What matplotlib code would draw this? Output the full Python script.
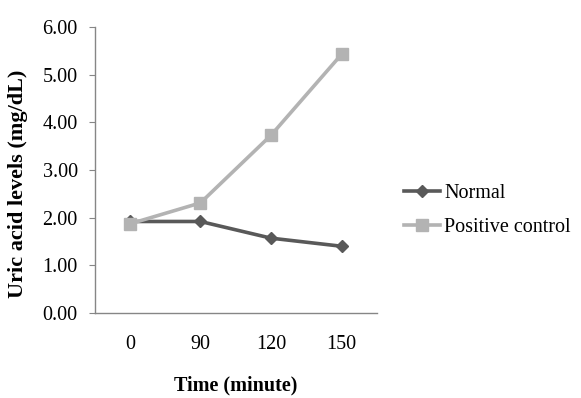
import matplotlib.pyplot as plt

times = ["0", "90", "120", "150"]
normal = [1.92, 1.92, 1.57, 1.40]
positive = [1.87, 2.31, 3.73, 5.43]
yticks = [0, 1, 2, 3, 4, 5, 6]

plt.rcParams['font.family'] = ['Liberation Serif', 'DejaVu Serif']

fig = plt.figure(figsize=(5.81, 3.98), dpi=100)
ax = fig.add_axes([94.5 / 581, 1 - 313 / 398, (377 - 94.5) / 581, (313 - 27) / 398])

x = range(len(times))
ax.plot(x, normal, color='#595959', lw=2.6, marker='D', ms=6.5, label='Normal', zorder=3)
ax.plot(x, positive, color='#b3b3b3', lw=2.6, marker='s', ms=9, label='Positive control', zorder=4)

ax.set_xlim(-0.5, len(times) - 0.5)
ax.set_ylim(0, 6)
ax.set_xticks(list(x))
ax.set_xticklabels(times)
ax.set_yticks(yticks)
ax.set_yticklabels([f"{v:.2f}" for v in yticks])
ax.tick_params(axis='y', length=4, color='#868686', labelsize=14.5, pad=8)
ax.tick_params(axis='x', length=0, labelsize=14.5, pad=16)

for s in ['top', 'right']:
    ax.spines[s].set_visible(False)
for s in ['left', 'bottom']:
    ax.spines[s].set_color('#868686')
    ax.spines[s].set_linewidth(1)

ax.set_xlabel("Time (minute)", fontsize=14.5, fontweight='bold', labelpad=15)
ax.set_ylabel("Uric acid levels (mg/dL)", fontsize=16, fontweight='bold')
ax.yaxis.set_label_coords(-0.237, 0.451)

ax.legend(loc='center left', bbox_to_anchor=(1.032, 0.358), frameon=False, fontsize=14.5,
          handlelength=1.8, handletextpad=0.2, labelspacing=0.75)

fig.savefig("out.png", dpi=100)
